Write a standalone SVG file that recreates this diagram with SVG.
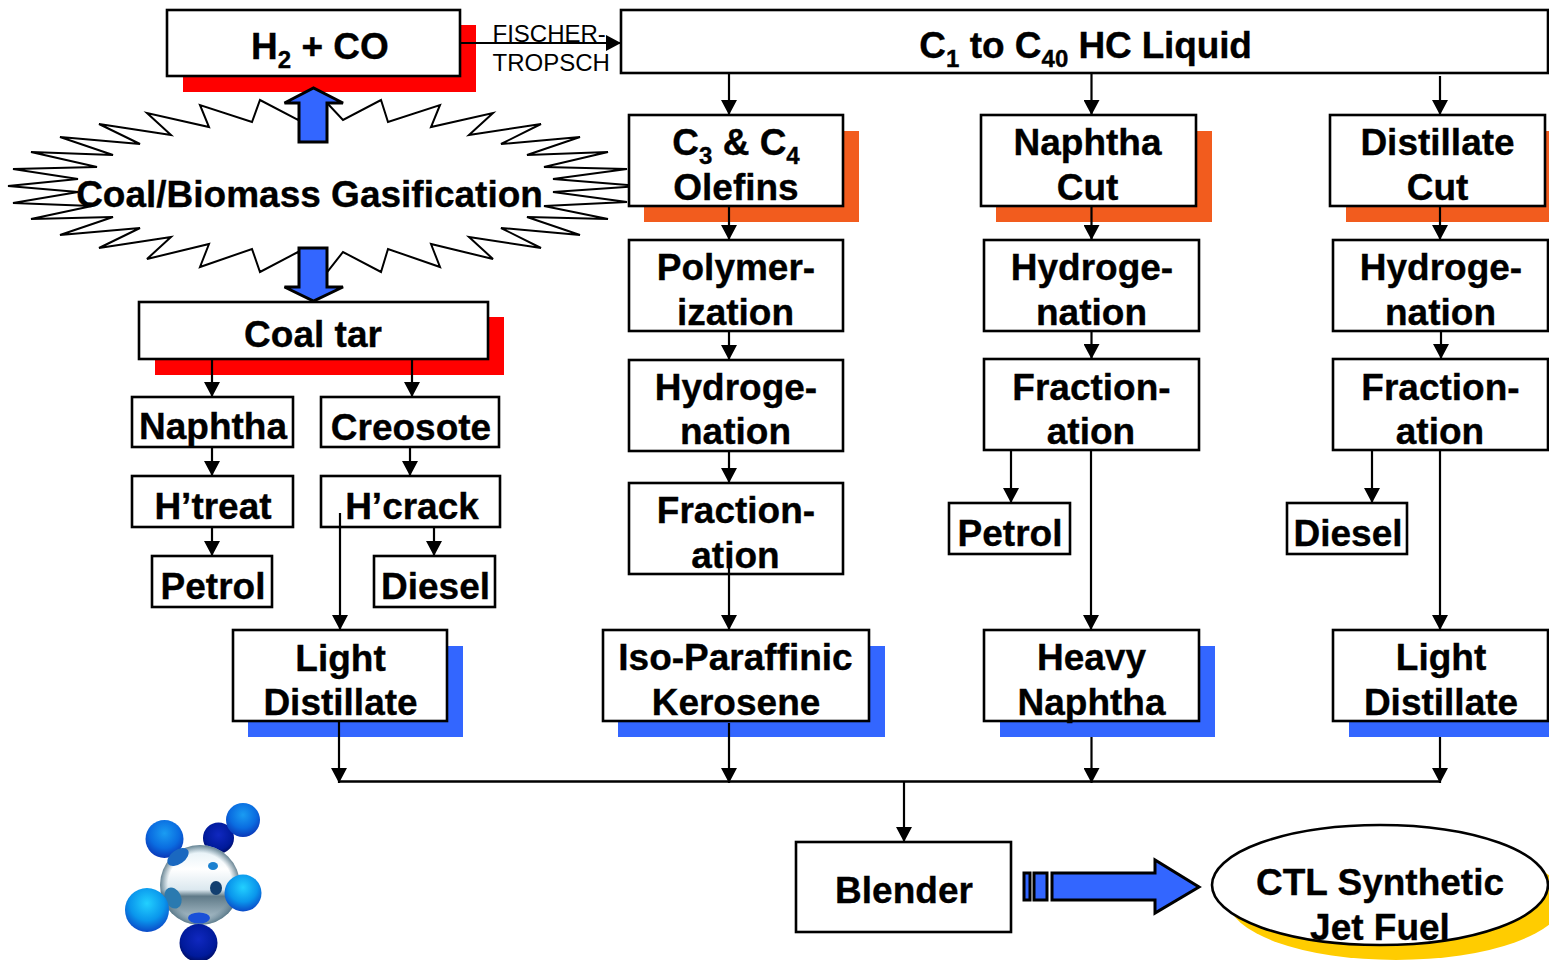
<svg xmlns="http://www.w3.org/2000/svg" width="1549" height="960" viewBox="0 0 1549 960">
<style>
text{font-family:"Liberation Sans",Arial,sans-serif;font-weight:700;font-size:37px;text-anchor:middle;fill:#000;stroke:#000;stroke-width:.35}
.box{fill:#fff;stroke:#000;stroke-width:2.6}
.red{fill:#ff0000}.org{fill:#f25c1e}.blu{fill:#3366ff}
.arr{fill:#3366ff;stroke:#000;stroke-width:3}
.c{fill:none;stroke:#000;stroke-width:2.2;marker-end:url(#ah)}
.sub{font-size:24px}
text.ft{font-weight:400;font-size:24px;text-anchor:start;stroke:none}
</style>
<defs>
<marker id="ah" markerUnits="userSpaceOnUse" markerWidth="16" markerHeight="16" refX="15" refY="8" orient="auto"><path d="M0 0L15 8L0 16Z" fill="#000"/></marker>
<radialGradient id="g0" cx="50%" cy="35%" r="65%"><stop offset="0" stop-color="#1a9cf2"/><stop offset=".6" stop-color="#0a6ce0"/><stop offset="1" stop-color="#0a38b8"/></radialGradient>
<radialGradient id="g1" cx="50%" cy="35%" r="65%"><stop offset="0" stop-color="#22d0ff"/><stop offset=".6" stop-color="#0a96ec"/><stop offset="1" stop-color="#0a4ac8"/></radialGradient>
<radialGradient id="g3" cx="50%" cy="40%" r="65%"><stop offset="0" stop-color="#1028c0"/><stop offset=".7" stop-color="#001a9a"/><stop offset="1" stop-color="#000850"/></radialGradient>
<linearGradient id="gl" x1="0" y1="0" x2="0" y2="1"><stop offset="0" stop-color="#dfeef5"/><stop offset=".3" stop-color="#ffffff"/><stop offset=".56" stop-color="#dbe8ef"/><stop offset=".64" stop-color="#5f7a88"/><stop offset="1" stop-color="#bccfd9"/></linearGradient>
<radialGradient id="rim"><stop offset=".8" stop-color="#5f7f90" stop-opacity="0"/><stop offset="1" stop-color="#4f6f80" stop-opacity=".85"/></radialGradient>
</defs>

<g id="burst">
<path fill="#fff" stroke="#000" stroke-width="2" d="M313 88L343 120L381 100L388 122L440 105L431 127L493 113L469 135L541 124L501 144L580 137L527 155L608 152L544 167L627 169L553 179L640 186L553 192L627 202L544 206L608 219L527 217L580 235L501 228L541 248L469 237L493 259L431 244L440 267L388 249L381 272L343 252L313 290L298 252L260 272L252 249L200 267L209 244L147 259L171 237L99 248L140 228L60 235L113 217L31 219L92 206L13 203L78 192L8 186L78 179L13 169L97 167L31 152L113 155L60 137L140 144L99 124L171 135L147 113L209 127L200 105L252 122L260 100L298 120Z"/>
<text x="309.500" y="207">Coal/Biomass Gasification</text>
</g>

<g id="h2co"><rect class="red" x="183" y="25" width="293" height="67"/><rect class="box" x="167" y="10" width="293" height="66"/><text x="320" y="59">H<tspan class="sub" dy="9">2</tspan><tspan dy="-9"> + CO</tspan></text></g>
<g id="hc-liquid"><rect class="box" x="621" y="10" width="927" height="63"/><text x="1085.500" y="58">C<tspan class="sub" dy="9">1</tspan><tspan dy="-9"> to C</tspan><tspan class="sub" dy="9">40</tspan><tspan dy="-9" letter-spacing="-.15"> HC Liquid</tspan></text></g>
<g id="ft-label"><text class="ft" x="492.500" y="42">FISCHER-</text><text class="ft" x="492.500" y="71">TROPSCH</text></g>

<g id="olefins"><rect class="org" x="644" y="131" width="215" height="91"/><rect class="box" x="629" y="115" width="214" height="91"/><text x="736" y="155">C<tspan class="sub" dy="9">3</tspan><tspan dy="-9"> &amp; C</tspan><tspan class="sub" dy="9">4</tspan></text><text x="736" y="200">Olefins</text></g>
<g id="naphtha-cut"><rect class="org" x="996" y="131" width="216" height="91"/><rect class="box" x="981" y="115" width="215" height="91"/><text x="1087.500" y="155">Naphtha</text><text x="1087.500" y="200">Cut</text></g>
<g id="distillate-cut"><rect class="org" x="1346" y="131" width="203" height="91"/><rect class="box" x="1330" y="115" width="215" height="91"/><text x="1437.500" y="155">Distillate</text><text x="1437.500" y="200">Cut</text></g>

<g id="polymer"><rect class="box" x="629" y="240" width="214" height="91"/><text x="736" y="280">Polymer-</text><text x="735.500" y="325">ization</text></g>
<g id="hydro1"><rect class="box" x="629" y="360" width="214" height="91"/><text x="736" y="400">Hydroge-</text><text x="735.500" y="444">nation</text></g>
<g id="frac1"><rect class="box" x="629" y="483" width="214" height="91"/><text x="736" y="523">Fraction-</text><text x="735.500" y="568">ation</text></g>
<g id="hydro2"><rect class="box" x="984" y="240" width="215" height="91"/><text x="1092" y="280">Hydroge-</text><text x="1091.500" y="325">nation</text></g>
<g id="frac2"><rect class="box" x="984" y="359" width="215" height="91"/><text x="1091.500" y="400">Fraction-</text><text x="1091" y="444">ation</text></g>
<g id="hydro3"><rect class="box" x="1333" y="240" width="215" height="91"/><text x="1441" y="280">Hydroge-</text><text x="1440.500" y="325">nation</text></g>
<g id="frac3"><rect class="box" x="1333" y="359" width="215" height="91"/><text x="1440.500" y="400">Fraction-</text><text x="1440" y="444">ation</text></g>

<g id="coal-tar"><rect class="red" x="155" y="317" width="349" height="58"/><rect class="box" x="139" y="302" width="349" height="57"/><text x="313" y="347">Coal tar</text></g>
<g id="naphtha"><rect class="box" x="132" y="397" width="161" height="50"/><text x="213" y="439">Naphtha</text></g>
<g id="creosote"><rect class="box" x="321" y="397" width="178" height="50"/><text x="411" y="440">Creosote</text></g>
<g id="htreat"><rect class="box" x="132" y="476" width="161" height="51"/><text x="213" y="519">H’treat</text></g>
<g id="hcrack"><rect class="box" x="321" y="476" width="179" height="51"/><text x="412" y="519">H’crack</text></g>
<g id="petrol1"><rect class="box" x="152" y="556" width="120" height="51"/><text x="213" y="599">Petrol</text></g>
<g id="diesel1"><rect class="box" x="374" y="556" width="121" height="51"/><text x="435.500" y="599">Diesel</text></g>
<g id="petrol2"><rect class="box" x="949" y="503" width="121" height="51"/><text x="1010" y="546">Petrol</text></g>
<g id="diesel2"><rect class="box" x="1287" y="503" width="120" height="51"/><text x="1348" y="546">Diesel</text></g>

<g id="light1"><rect class="blu" x="248" y="646" width="215" height="91"/><rect class="box" x="233" y="630" width="214" height="91"/><text x="340.500" y="671">Light</text><text x="340.500" y="715">Distillate</text></g>
<g id="iso"><rect class="blu" x="618" y="646" width="267" height="91"/><rect class="box" x="603" y="630" width="266" height="91"/><text x="735.500" y="670">Iso-Paraffinic</text><text x="736" y="715">Kerosene</text></g>
<g id="heavy"><rect class="blu" x="1000" y="646" width="215" height="91"/><rect class="box" x="984" y="630" width="215" height="91"/><text x="1091.500" y="670">Heavy</text><text x="1091.500" y="715">Naphtha</text></g>
<g id="light2"><rect class="blu" x="1349" y="646" width="200" height="91"/><rect class="box" x="1333" y="630" width="215" height="91"/><text x="1441" y="670">Light</text><text x="1441" y="715">Distillate</text></g>

<g id="blender"><rect class="box" x="796" y="842" width="215" height="90"/><text x="904" y="903">Blender</text></g>

<g id="connectors">
<path class="c" d="M460 43H621"/>
<path class="c" d="M729 74V115"/><path class="c" d="M1091.500 74V115"/><path class="c" d="M1440 76V115"/>
<path class="c" d="M729 206V240"/><path class="c" d="M1091.500 206V240"/><path class="c" d="M1440 206V240"/>
<path class="c" d="M729 331V360"/><path class="c" d="M1091.500 331V359"/><path class="c" d="M1441 331V359"/>
<path class="c" d="M729 451V483"/><path class="c" d="M729 565V630"/>
<path class="c" d="M1011 450V503"/><path class="c" d="M1091 450V630"/>
<path class="c" d="M1372 450V503"/><path class="c" d="M1440 450V630"/>
<path class="c" d="M212 359V397"/><path class="c" d="M412 359V397"/>
<path class="c" d="M212 447V476"/><path class="c" d="M410 447V476"/>
<path class="c" d="M212 527V556"/><path class="c" d="M434 527V556"/>
<path class="c" d="M340 513V630"/>
<path class="c" d="M339 721V783"/><path class="c" d="M729 723V783"/><path class="c" d="M1091.500 737V783"/><path class="c" d="M1440 737V783"/>
<path fill="none" stroke="#000" stroke-width="2.4" d="M339 781.500H1440"/>
<path class="c" d="M904 781V842"/>
</g>

<g id="fat-arrows">
<path class="arr" d="M299 142V103H284.500L313.500 88L343 103H327V142Z"/>
<path class="arr" d="M299 248V287H284.500L313.500 301L343 287H327V248Z"/>
<rect class="arr" x="1024" y="873" width="6" height="27"/><rect class="arr" x="1034" y="873" width="13" height="27"/>
<path class="arr" d="M1052 873H1155V860L1199 887L1155 913V900H1052Z"/>
</g>
<g id="ctl">
<ellipse cx="1396" cy="900" rx="168" ry="60" fill="#ffcc00"/>
<ellipse cx="1380" cy="885" rx="168" ry="60" fill="#fff" stroke="#000" stroke-width="2.6"/>
<text x="1380" y="895">CTL Synthetic</text><text x="1380" y="940">Jet Fuel</text>
</g>
<g id="molecule">
<circle cx="218.500" cy="838" r="15.500" fill="url(#g3)"/>
<circle cx="243" cy="820" r="17" fill="url(#g0)"/>
<circle cx="164.500" cy="839" r="19" fill="url(#g0)"/>
<circle cx="200" cy="885" r="40" fill="url(#gl)"/>
<circle cx="200" cy="885" r="40" fill="url(#rim)"/>
<ellipse cx="178" cy="857" rx="12" ry="7" fill="#1a68c0" transform="rotate(-35 178 857)"/>
<ellipse cx="213" cy="866" rx="5" ry="4" fill="#1a80d0"/>
<ellipse cx="216" cy="888" rx="6" ry="7" fill="#123f70"/>
<ellipse cx="173" cy="898" rx="8" ry="11" fill="#2a7ab0" transform="rotate(-25 173 898)"/>
<ellipse cx="199" cy="918" rx="11" ry="5.500" fill="#1a50d8"/>
<circle cx="243" cy="893" r="18.500" fill="url(#g1)"/>
<circle cx="147" cy="910" r="22" fill="url(#g1)"/>
<circle cx="198.500" cy="943" r="19" fill="url(#g3)"/>
</g>
</svg>
